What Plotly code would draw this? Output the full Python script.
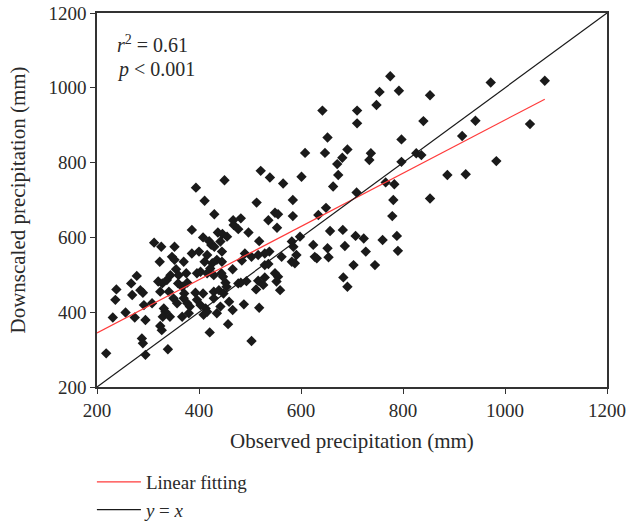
import plotly.graph_objects as go

observed = [
    312, 326, 352, 424, 430, 420, 445, 347, 352, 323, 370, 386, 400, 416, 411, 426, 435, 445, 422,
    278, 267, 238, 269, 236, 285, 290, 320, 328, 337, 344, 355, 360, 375, 377, 396, 403, 416, 429,
    447, 452, 359, 367, 371, 393, 408, 429, 439, 324, 341, 350, 357, 370, 377, 382, 396, 403, 413,
    416, 409, 429, 442, 448, 308, 292, 256, 231, 274, 295, 331, 334, 329, 343, 367, 380, 435, 324,
    327, 288, 290, 218, 295, 339, 421,
    518, 624, 652, 686, 627, 631, 654, 591, 585, 582, 562, 538, 529, 516, 503, 490, 484, 582, 588,
    529, 536, 466, 444, 549, 555, 552, 529, 516, 526, 512, 559, 477, 482, 493, 454, 459, 466, 488,
    518, 457, 503, 683, 691,
    450, 394, 411, 430, 386, 437, 408, 442,
    652, 608, 647, 691, 671, 681, 673, 663, 521, 539, 565, 601, 513, 584, 549, 555, 584, 536, 467,
    482, 468, 477, 497, 553, 634, 649, 446, 455, 657, 682, 598,
    797, 916, 737, 734, 797, 826, 836, 887, 923, 766, 783, 709, 781, 853, 779, 707, 723, 760, 788,
    703, 745, 727, 790,
    775, 754, 792, 853, 748, 710, 710, 840,
    972, 1078, 942, 1049, 983,
    642,
]
downscaled = [
    586, 575, 575, 580, 575, 590, 562, 548, 540, 535, 535, 557, 562, 553, 535, 531, 540, 535, 517,
    497, 477, 461, 446, 433, 459, 452, 482, 477, 486, 499, 515, 499, 504, 479, 504, 508, 504, 499,
    495, 479, 477, 468, 450, 452, 450, 455, 459, 455, 455, 437, 424, 437, 424, 415, 433, 419, 410,
    401, 393, 437, 415, 450, 424, 419, 399, 386, 386, 379, 410, 401, 388, 388, 388, 397, 397, 363,
    352, 330, 317, 290, 286, 301, 346,
    590, 580, 571, 577, 548, 544, 547, 553, 575, 589, 548, 562, 557, 553, 548, 557, 538, 535, 531,
    526, 529, 515, 504, 504, 495, 482, 493, 484, 473, 461, 459, 477, 479, 483, 468, 428, 406, 421,
    412, 368, 323, 493, 468,
    753, 733, 698, 662, 620, 613, 600, 589,
    867, 826, 826, 835, 796, 813, 767, 736, 778, 760, 744, 762, 693, 700, 666, 662, 657, 646, 646,
    651, 633, 622, 613, 626, 660, 679, 609, 602, 617, 620, 602,
    862, 871, 825, 807, 802, 825, 820, 767, 769, 747, 742, 720, 700, 704, 657, 604, 597, 593, 604,
    526, 526, 562, 564,
    1031, 989, 992, 980, 954, 939, 905, 911,
    1014, 1019, 912, 903, 804,
    939,
]

fit_slope = 0.712
fit_intercept = 202
fit_x = [200, 1078]
fit_y = [fit_slope * v + fit_intercept for v in fit_x]
identity = [200, 1200]

x_ticks = [200, 400, 600, 800, 1000, 1200]
y_ticks = [200, 400, 600, 800, 1000, 1200]

FONT = "Liberation Serif"

fig = go.Figure()
fig.add_trace(go.Scatter(
    x=observed, y=downscaled, mode="markers", showlegend=False,
    marker=dict(symbol="diamond", size=8, color="#1a1a1a"),
))
fig.add_trace(go.Scatter(
    x=fit_x, y=fit_y, mode="lines", name="Linear fitting",
    line=dict(color="#ff3b3b", width=1.2),
))
fig.add_trace(go.Scatter(
    x=identity, y=identity, mode="lines", name="<i>y</i> = <i>x</i>",
    line=dict(color="#1a1a1a", width=1.2),
))

axis_common = dict(
    showgrid=False, zeroline=False, showline=True, linecolor="#333333", linewidth=1.5,
    mirror=True, ticks="outside", ticklen=5, tickcolor="#333333", tickwidth=1.2,
    tickfont=dict(family=FONT, size=19, color="#2a2a2a"), automargin=False,
)

fig.update_layout(
    width=626, height=525,
    margin=dict(l=97, r=19, t=13, b=138),
    paper_bgcolor="white", plot_bgcolor="white",
    font=dict(family=FONT, size=20, color="#2a2a2a"),
    xaxis=dict(range=[200, 1200], tickvals=x_ticks,
               title=dict(text="Observed precipitation (mm)", font=dict(family=FONT, size=21), standoff=14),
               **axis_common),
    yaxis=dict(range=[200, 1200], tickvals=y_ticks,
               title=dict(text="Downscaled precipitation (mm)", font=dict(family=FONT, size=21), standoff=17),
               **axis_common),
    legend=dict(x=-0.01, xanchor="left", xref="paper", y=0.118, yanchor="top", yref="container",
                font=dict(family=FONT, size=19, color="#2a2a2a"), itemwidth=44,
                bgcolor="rgba(0,0,0,0)", tracegroupgap=0),
    annotations=[
        dict(text="<i>r</i><sup>2</sup> = 0.61", x=0.035, y=0.917, xref="paper", yref="paper",
             xanchor="left", yanchor="middle", showarrow=False, font=dict(family=FONT, size=20)),
        dict(text="<i>p</i> < 0.001", x=0.035, y=0.849, xref="paper", yref="paper",
             xanchor="left", yanchor="middle", showarrow=False, font=dict(family=FONT, size=20)),
    ],
)

fig.write_html(
    "out.html",
    config={"displayModeBar": False},
    post_script="document.body.style.margin='0';document.body.style.padding='0';",
)
